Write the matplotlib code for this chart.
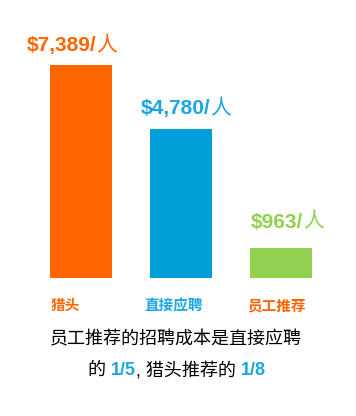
import matplotlib
matplotlib.use("Agg")
import matplotlib.pyplot as plt

categories = ["猎头", "直接应聘", "员工推荐"]
costs = [7389, 4780, 963]
# visual bar heights as drawn in the reference (not strictly proportional)
bar_heights = [7389, 5170, 1040]
bar_colors = ["#FF6600", "#009FDA", "#92D050"]
value_colors = ["#FF6600", "#1AA7E1", "#92D050"]
cat_colors = ["#FF6600", "#1AA7E1", "#FF6600"]
line1 = "员工推荐的招聘成本是直接应聘"
line2_parts = [("的 ", "#000000", "normal"), ("1/5", "#1AA7E1", "bold"),
               (", 猎头推荐的 ", "#000000", "normal"), ("1/8", "#1AA7E1", "bold")]

FAM = ["Liberation Sans", "Noto Sans CJK SC", "DejaVu Sans"]
CJK = ["Noto Sans CJK SC", "DejaVu Sans"]

W, H = 356, 416
fig = plt.figure(figsize=(W / 100, H / 100), dpi=100)
base_px = 278  # baseline from top
ax = fig.add_axes([0, (H - base_px) / H, 1, base_px / H])
scale = 7389 / 213.0  # value per pixel
ax.set_ylim(0, base_px * scale)
ax.set_xlim(-0.81, 2.75)
ax.axis("off")

x = list(range(len(categories)))
bars = ax.bar(x, bar_heights, width=0.62, color=bar_colors)

renderer = fig.canvas.get_renderer()


def mixed_line(parts, cx_px, base_y_px, size):
    """Draw pieces of text side by side on a common baseline, centred at cx_px."""
    ts = []
    for s, col, wt, fam in parts:
        t = fig.text(0, 1 - base_y_px / H, s, ha="left", va="baseline", color=col,
                     fontsize=size, fontweight=wt, family=fam)
        ts.append(t)
    ws = [t.get_window_extent(renderer).width for t in ts]
    cur = cx_px - sum(ws) / 2
    for t, w in zip(ts, ws):
        t.set_x(cur / W)
        cur += w


# value labels: centres / baselines in px measured from reference
label_cx = [71.5, 185.5, 287]
label_gap = [13.5, 15, 20.5]
for i, (h, c) in enumerate(zip(bar_heights, costs)):
    top_px = base_px - h / scale
    mixed_line([(f"${c:,}/", value_colors[i], "bold", FAM),
                ("人", value_colors[i], "normal", CJK)],
               label_cx[i], top_px - label_gap[i], 15)

cat_x = [65.5, 173.5, 276.5]
for cx, cat, col in zip(cat_x, categories, cat_colors):
    fig.text(cx / W, 1 - 305 / H, cat, ha="center", va="center", color=col,
             fontsize=10.5, fontweight="bold", family=CJK)

mixed_line([(line1, "#000000", "normal", CJK)], 176, 344, 13)
mixed_line([(s, col, wt, FAM) for s, col, wt in line2_parts], 176.5, 375, 13)

fig.savefig("out.png", dpi=100, facecolor="white")
